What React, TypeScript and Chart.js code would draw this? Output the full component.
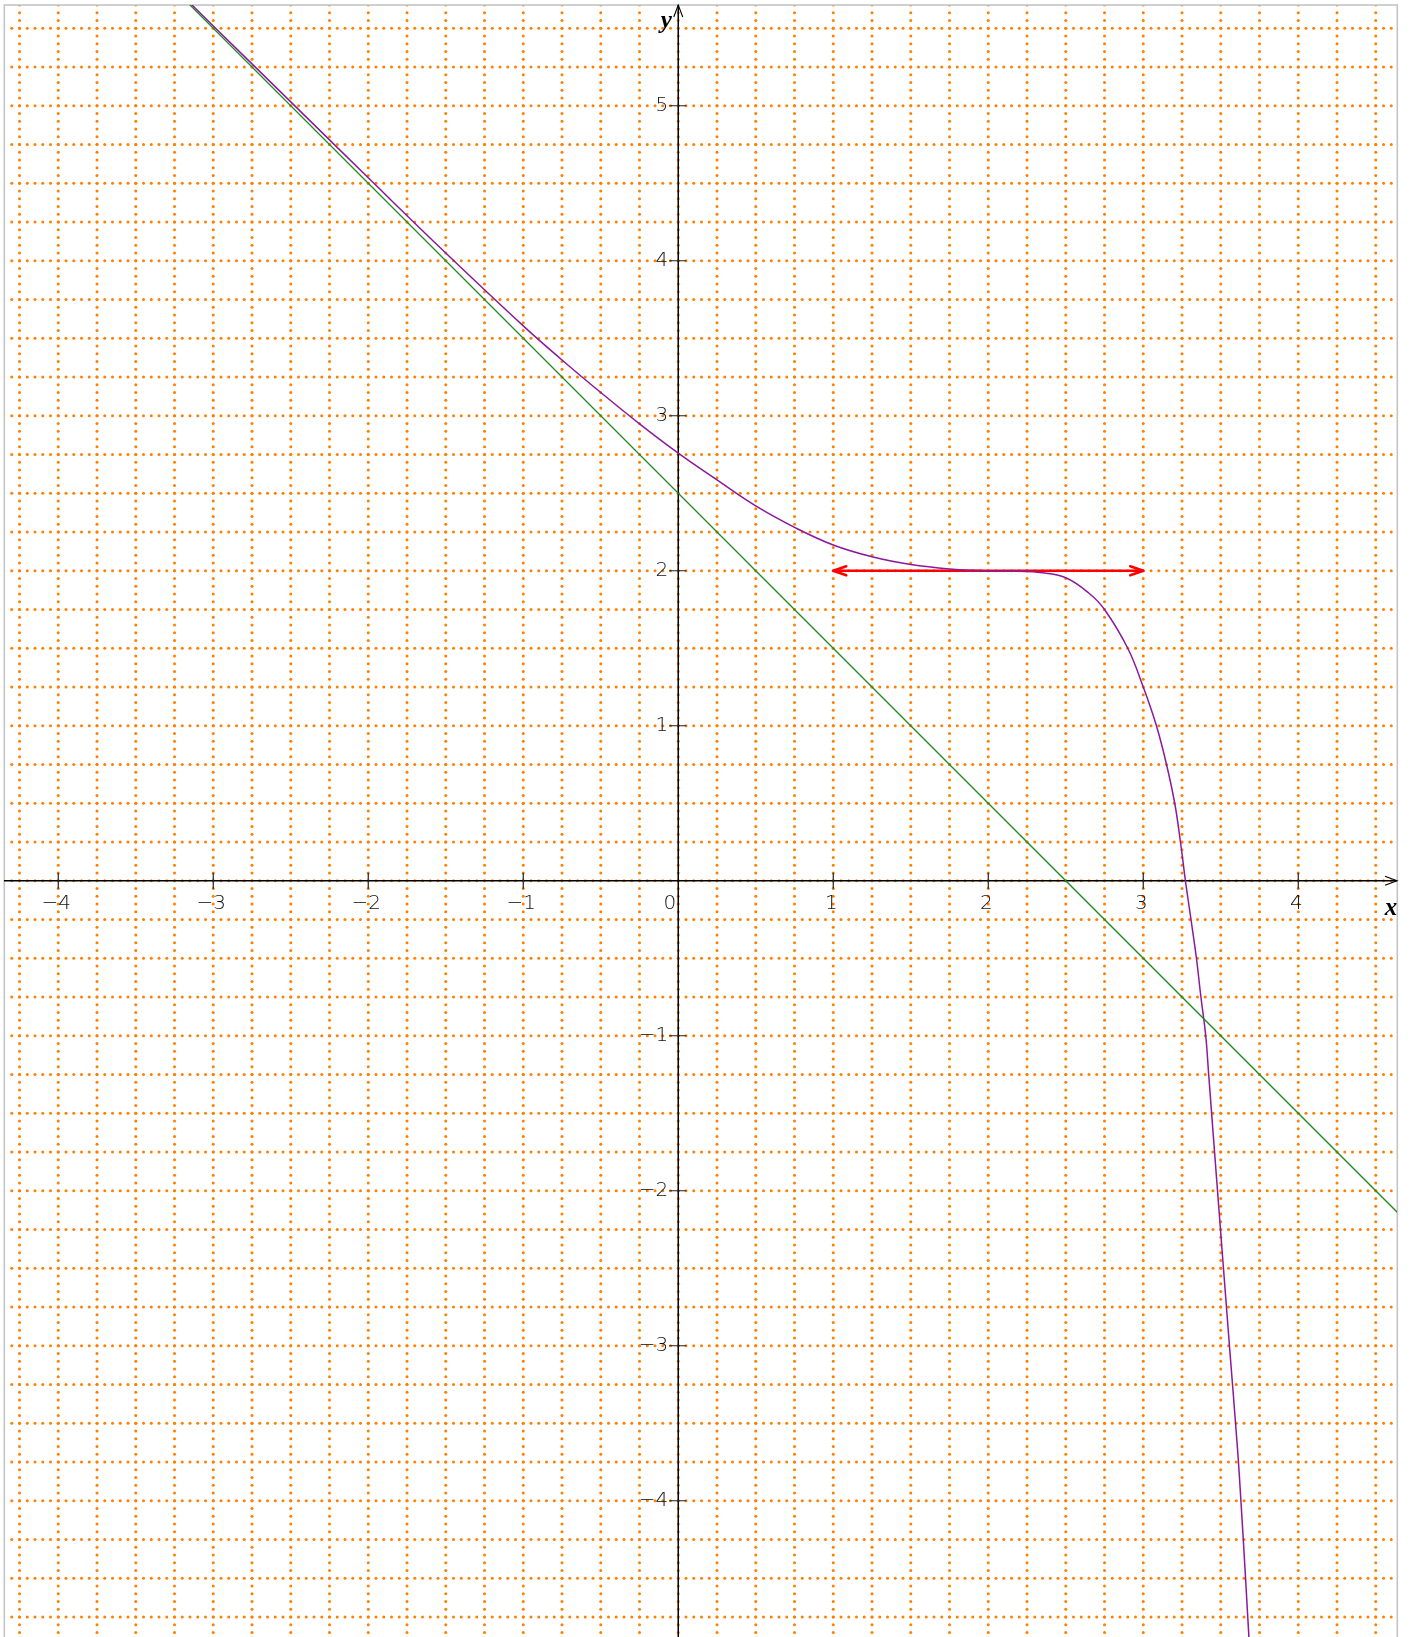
import { useEffect, useRef } from "react";
import { Chart, registerables } from "chart.js";

Chart.register(...registerables);

// ---- axis ranges and ticks ----
const X_MIN = -4.35;
const X_MAX = 4.637;
const Y_MIN = -4.879;
const Y_MAX = 5.65;

const xTickValues = [-4, -3, -2, -1, 1, 2, 3, 4];
const xTickLabels = ["−4", "−3", "−2", "−1", "1", "2", "3", "4"];
const yTickValues = [-4, -3, -2, -1, 1, 2, 3, 4, 5];
const yTickLabels = ["−4", "−3", "−2", "−1", "1", "2", "3", "4", "5"];
const originLabel = "0";
const xAxisName = "x";
const yAxisName = "y";

const gridStep = [0.25];
const dotStep = [0.05];

// ---- curve (purple) ----
const curveX = [
  -3.3, -3.0, -2.5, -2.0, -1.5, -1.0, -0.75, -0.5, -0.25, 0, 0.25, 0.5, 0.75, 1.0,
  1.25, 1.5, 1.75, 2.0, 2.2, 2.333, 2.5, 2.65, 2.75, 2.9, 3.0, 3.085,
  3.15, 3.203, 3.24, 3.272, 3.308, 3.343, 3.372, 3.403, 3.422, 3.479, 3.556,
  3.609, 3.63, 3.66, 3.682, 3.69,
];
const curveY = [
  5.81, 5.515, 5.025, 4.535, 4.05, 3.58, 3.36, 3.15, 2.948, 2.759, 2.586, 2.418, 2.28,
  2.166, 2.09, 2.04, 2.012, 2.0, 1.996, 1.989, 1.955, 1.855, 1.75, 1.5, 1.25,
  1.0, 0.75, 0.5, 0.25, 0.0, -0.25, -0.5, -0.75, -1.0, -1.25, -2.0, -3.0, -3.677,
  -4.0, -4.5, -4.886, -5.0,
];

// ---- oblique asymptote (green) ----
const lineX = [-3.5, 4.8];
const lineY = [6.0, -2.3];

// ---- horizontal tangent (red double arrow) ----
const tangentX = [1, 3];
const tangentY = [2, 2];

const GRID_COLOR = "#ff8000";
const BORDER_COLOR = "#c4c4c4";
const CURVE_COLOR = "#8a1a9b";
const LINE_COLOR = "#1f8a1f";
const TANGENT_COLOR = "#ff0000";
const LABEL_COLOR = "#111111";

const toPoints = (xs: number[], ys: number[]) => xs.map((x, i) => ({ x, y: ys[i] }));

const drawPlugin = {
  id: "mathGrid",
  beforeDatasetsDraw(chart: any) {
    const { ctx, chartArea: a, scales } = chart;
    const sx = scales.x;
    const sy = scales.y;
    ctx.save();
    ctx.beginPath();
    ctx.rect(a.left, a.top, a.right - a.left, a.bottom - a.top);
    ctx.clip();

    // dotted grid
    ctx.fillStyle = GRID_COLOR;
    const g = gridStep[0];
    const d = dotStep[0];
    const dot = (px: number, py: number) => {
      ctx.beginPath();
      ctx.arc(px, py, 1.5, 0, Math.PI * 2);
      ctx.fill();
    };
    for (let k = Math.ceil(X_MIN / g); k * g <= X_MAX + 1e-9; k++) {
      const px = sx.getPixelForValue(k * g);
      for (let m = Math.ceil(Y_MIN / d); m * d <= Y_MAX + 1e-9; m++) {
        dot(px, sy.getPixelForValue(m * d));
      }
    }
    for (let k = Math.ceil(Y_MIN / g); k * g <= Y_MAX + 1e-9; k++) {
      const py = sy.getPixelForValue(k * g);
      for (let m = Math.ceil(X_MIN / d); m * d <= X_MAX + 1e-9; m++) {
        dot(sx.getPixelForValue(m * d), py);
      }
    }
    ctx.restore();

    // frame
    ctx.save();
    ctx.strokeStyle = BORDER_COLOR;
    ctx.lineWidth = 1.6;
    ctx.strokeRect(a.left + 0.3, a.top, a.right - a.left, a.bottom - a.top + 5);
    ctx.restore();

    // axes
    const x0 = sx.getPixelForValue(0);
    const y0 = sy.getPixelForValue(0);
    ctx.save();
    ctx.strokeStyle = "#000";
    ctx.lineWidth = 1.5;
    ctx.beginPath();
    ctx.moveTo(a.left, y0);
    ctx.lineTo(a.right, y0);
    ctx.moveTo(x0, a.bottom);
    ctx.lineTo(x0, a.top);
    ctx.stroke();
    ctx.lineWidth = 1.1;
    ctx.beginPath();
    ctx.moveTo(a.right - 12, y0 - 4.5);
    ctx.lineTo(a.right, y0);
    ctx.lineTo(a.right - 12, y0 + 4.5);
    ctx.moveTo(x0 - 4.5, a.top + 12);
    ctx.lineTo(x0, a.top);
    ctx.lineTo(x0 + 4.5, a.top + 12);
    ctx.stroke();

    // ticks
    ctx.lineWidth = 1.2;
    ctx.strokeStyle = "#222";
    ctx.beginPath();
    xTickValues.forEach((v) => {
      const px = sx.getPixelForValue(v);
      ctx.moveTo(px, y0 - 8);
      ctx.lineTo(px, y0 + 8);
    });
    yTickValues.forEach((v) => {
      const py = sy.getPixelForValue(v);
      ctx.moveTo(x0 - 9, py);
      ctx.lineTo(x0 + 8, py);
    });
    ctx.stroke();

    // tick labels
    ctx.fillStyle = LABEL_COLOR;
    ctx.font = "200 20px 'DejaVu Sans'";
    ctx.textBaseline = "middle";
    ctx.textAlign = "center";
    xTickValues.forEach((v, i) => {
      ctx.fillText(xTickLabels[i], sx.getPixelForValue(v) - 2, y0 + 23);
    });
    ctx.textAlign = "right";
    ctx.fillText(originLabel, x0 - 2, y0 + 23);
    yTickValues.forEach((v, i) => {
      ctx.fillText(yTickLabels[i], x0 - 10, sy.getPixelForValue(v));
    });
    ctx.restore();
  },
  afterDatasetsDraw(chart: any) {
    const { ctx, chartArea: a, scales } = chart;
    const sx = scales.x;
    const sy = scales.y;
    // arrow heads on the tangent
    const meta = chart.getDatasetMeta(2);
    const p0 = meta.data[0];
    const p1 = meta.data[1];
    ctx.save();
    ctx.strokeStyle = TANGENT_COLOR;
    ctx.lineWidth = 2.6;
    ctx.lineCap = "round";
    ctx.lineJoin = "round";
    ctx.beginPath();
    ctx.moveTo(p0.x + 13, p0.y - 4.5);
    ctx.lineTo(p0.x, p0.y);
    ctx.lineTo(p0.x + 13, p0.y + 4.5);
    ctx.moveTo(p1.x - 13, p1.y - 4.5);
    ctx.lineTo(p1.x, p1.y);
    ctx.lineTo(p1.x - 13, p1.y + 4.5);
    ctx.stroke();
    ctx.restore();

    // axis names
    const x0 = sx.getPixelForValue(0);
    const y0 = sy.getPixelForValue(0);
    ctx.save();
    ctx.fillStyle = "#000";
    ctx.font = "bold italic 25px 'Liberation Serif'";
    ctx.textAlign = "center";
    ctx.textBaseline = "alphabetic";
    ctx.fillText(xAxisName, a.right - 6, y0 + 34);
    ctx.fillText(yAxisName, x0 - 12, a.top + 23);
    ctx.restore();
  },
};

export default function App() {
  const ref = useRef<HTMLCanvasElement | null>(null);
  useEffect(() => {
    if (!ref.current) return;
    const chart = new Chart(ref.current, {
      type: "line",
      data: {
        datasets: [
          {
            data: toPoints(lineX, lineY),
            borderColor: LINE_COLOR,
            borderWidth: 1.3,
            pointRadius: 0,
            tension: 0,
          },
          {
            data: toPoints(curveX, curveY),
            borderColor: CURVE_COLOR,
            borderWidth: 1.5,
            pointRadius: 0,
            tension: 0.4,
          },
          {
            data: toPoints(tangentX, tangentY),
            borderColor: TANGENT_COLOR,
            borderWidth: 2.6,
            pointRadius: 0,
            tension: 0,
          },
        ],
      },
      options: {
        responsive: false,
        animation: false,
        devicePixelRatio: 1,
        layout: { padding: { left: 4, right: 13, top: 5, bottom: 0 } },
        plugins: { legend: { display: false }, tooltip: { enabled: false } },
        scales: {
          x: { type: "linear", min: X_MIN, max: X_MAX, display: false },
          y: { type: "linear", min: Y_MIN, max: Y_MAX, display: false },
        },
      },
      plugins: [drawPlugin],
    });
    return () => chart.destroy();
  }, []);
  return (
    <div style={{ position: "absolute", left: 0, top: 0, width: 1410, height: 1637, background: "#fff" }}>
      <canvas ref={ref} width={1410} height={1637} style={{ display: "block" }} />
    </div>
  );
}
